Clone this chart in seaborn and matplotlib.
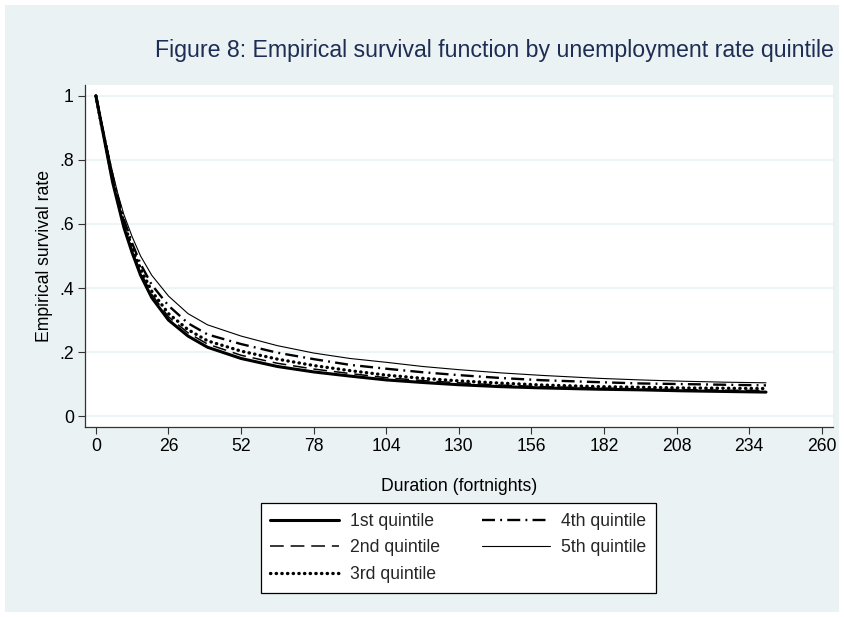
import pandas as pd
import seaborn as sns
import matplotlib.pyplot as plt
from matplotlib.patches import Rectangle

# Data
duration = [0, 2, 4, 6, 8, 10, 13, 16, 20, 26, 33, 40, 52, 65, 78, 91,
            104, 117, 130, 145, 160, 180, 195, 210, 225, 240]
q1 = [1.00, 0.91, 0.82, 0.73, 0.66, 0.59, 0.51, 0.44, 0.37, 0.30, 0.25, 0.215,
      0.18, 0.155, 0.138, 0.125, 0.113, 0.105, 0.098, 0.092, 0.088, 0.084,
      0.082, 0.079, 0.077, 0.075]
q2 = [1.00, 0.91, 0.82, 0.735, 0.665, 0.60, 0.515, 0.45, 0.38, 0.31, 0.26, 0.225,
      0.19, 0.165, 0.147, 0.133, 0.12, 0.111, 0.104, 0.097, 0.092, 0.088,
      0.085, 0.083, 0.081, 0.080]
q3 = [1.00, 0.91, 0.825, 0.74, 0.67, 0.605, 0.525, 0.46, 0.39, 0.32, 0.27, 0.235,
      0.203, 0.178, 0.158, 0.142, 0.128, 0.118, 0.11, 0.103, 0.097, 0.092,
      0.09, 0.088, 0.087, 0.086]
q4 = [1.00, 0.915, 0.83, 0.75, 0.68, 0.615, 0.54, 0.475, 0.41, 0.345, 0.29, 0.255,
      0.225, 0.198, 0.178, 0.16, 0.148, 0.137, 0.128, 0.119, 0.112, 0.106,
      0.102, 0.10, 0.098, 0.096]
q5 = [1.00, 0.92, 0.84, 0.76, 0.69, 0.63, 0.56, 0.50, 0.44, 0.375, 0.32, 0.285,
      0.25, 0.22, 0.197, 0.18, 0.168, 0.155, 0.145, 0.135, 0.127, 0.118,
      0.113, 0.109, 0.106, 0.104]
labels = ["1st quintile", "2nd quintile", "3rd quintile", "4th quintile", "5th quintile"]
x_ticks = list(range(0, 261, 26))
y_ticks = [0, 0.2, 0.4, 0.6, 0.8, 1.0]
y_ticklabels = ["0", ".2", ".4", ".6", ".8", "1"]

# Stata s2color look
sns.set_theme(style="white")
plt.rcParams["font.family"] = ["Liberation Sans", "DejaVu Sans"]
bg = "#EAF2F3"
navy = "#1E2D53"
fs = 12.7

W, H = 844, 617
fig = plt.figure(figsize=(W / 100, H / 100), dpi=100, facecolor="white")
fig.patches.append(Rectangle((5 / W, 5 / H), 834 / W, 607 / H, transform=fig.transFigure,
                             facecolor=bg, edgecolor="none", zorder=-10))
ax = fig.add_axes([85 / W, 190 / H, 748 / W, 342 / H])
ax.set_facecolor("white")

styles = [
    dict(lw=2.2, linestyle="-"),
    dict(lw=1.1, linestyle=(0, (9, 4.5))),
    dict(lw=2.4, linestyle=(0, (0.1, 1.6)), dash_capstyle="round", solid_capstyle="round"),
    dict(lw=1.7, linestyle=(0, (5.5, 2.2, 0.8, 2.2))),
    dict(lw=0.8, linestyle="-"),
]
for series, lab, st in zip([q1, q2, q3, q4, q5], labels, styles):
    df = pd.DataFrame({"duration": duration, "rate": series})
    sns.lineplot(data=df, x="duration", y="rate", ax=ax, color="black",
                 label=lab, estimator=None, sort=False, **st)

ax.set_xlim(-3.9, 264)
ax.set_ylim(-0.034, 1.034)
ax.set_xticks(x_ticks)
ax.set_yticks(y_ticks)
ax.set_yticklabels(y_ticklabels)
ax.tick_params(axis="both", which="major", direction="out", length=5, width=0.8,
               color="#333333", labelsize=fs, labelcolor="black", pad=3,
               bottom=True, left=True)
ax.grid(axis="y", color=bg, lw=1.2)
ax.grid(axis="x", visible=False)
for side in ["top", "right"]:
    ax.spines[side].set_visible(False)
for side in ["left", "bottom"]:
    ax.spines[side].set_color("#333333")
    ax.spines[side].set_linewidth(0.9)

ax.set_xlabel("Duration (fortnights)", fontsize=fs, color="black")
ax.set_ylabel("Empirical survival rate", fontsize=fs, color="black")
ax.xaxis.label.set_va("center")
ax.yaxis.label.set_va("center")
ax.xaxis.set_label_coords(0.5, -0.1754)
ax.yaxis.set_label_coords(-0.0535, 0.5)

ax.get_legend().remove()
handles, labs = ax.get_legend_handles_labels()
leg = fig.legend(handles, labs, loc="upper center", ncol=2,
                 bbox_to_anchor=(458.5 / W, 1 - 503 / H), bbox_transform=fig.transFigure,
                 borderaxespad=0, fontsize=fs, handlelength=3.9, handletextpad=0.62,
                 columnspacing=2.35, labelspacing=0.55, borderpad=0.55, fancybox=False,
                 framealpha=1, edgecolor="black", facecolor="white")
leg.get_frame().set_linewidth(0.9)

fig.text(834 / W, 1 - 50 / H,
         "Figure 8: Empirical survival function by unemployment rate quintile",
         ha="right", va="center", fontsize=16.7, color=navy)

fig.savefig("out.png", dpi=100, facecolor="white")
